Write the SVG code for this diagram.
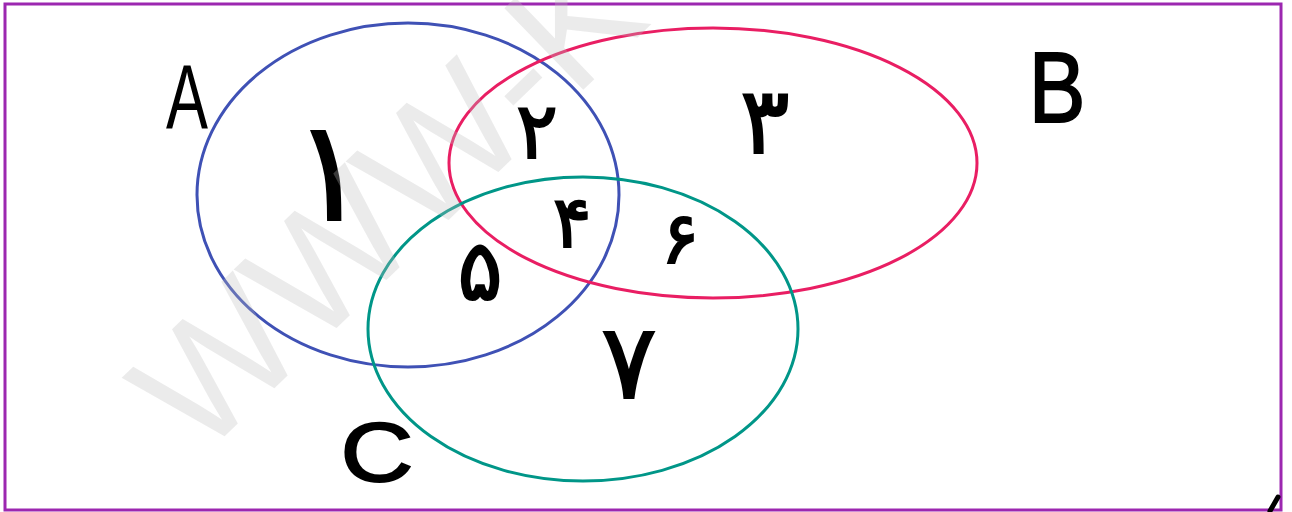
<svg xmlns="http://www.w3.org/2000/svg" width="1292" height="512" viewBox="0 0 1292 512">
<style>
.set{fill:none;stroke-width:3}
.hand{font-family:"DejaVu Sans",sans-serif;fill:#000;text-anchor:middle;stroke:#000;stroke-width:2}
.lbl{font-family:"Liberation Sans",sans-serif;fill:#000;text-anchor:middle}
.wm{font-family:"Liberation Sans",sans-serif;font-size:165px;fill:#bebebe;fill-opacity:0.3}
</style>
<rect width="1292" height="512" fill="#fff"/>
<rect x="5" y="4" width="1276" height="506" fill="none" stroke="#9C27B0" stroke-width="3"/>
<g id="setA"><ellipse class="set" cx="408" cy="195" rx="211" ry="172" stroke="#3F51B5"/></g>
<g id="setB"><ellipse class="set" cx="713" cy="163" rx="264" ry="135" stroke="#E91E63"/></g>
<g id="setC"><ellipse class="set" cx="583" cy="329" rx="215" ry="152" stroke="#009688"/></g>
<g id="labels">
<text class="lbl" x="187" y="128" font-size="90" transform="translate(187 128) scale(0.7 1) translate(-187 -128)">A</text>
<text class="lbl" x="1057" y="122" font-size="100" stroke="#000" stroke-width="2" transform="translate(1057 122) scale(0.85 1) translate(-1057 -122)">B</text>
<text class="lbl" x="377" y="481" font-size="84" stroke="#000" stroke-width="2" transform="translate(377 481) scale(1.2 1) translate(-377 -481)">C</text>
</g>
<g id="regions">
<text class="hand" x="330" y="220" font-size="140" stroke-width="0">۱</text>
<text class="hand" x="537" y="158" font-size="78">۲</text>
<text class="hand" x="765" y="153" font-size="92">۳</text>
<text class="hand" x="572" y="247" font-size="72">۴</text>
<text class="hand" x="480" y="300" font-size="84">۵</text>
<text class="hand" x="680" y="263" font-size="72">۶</text>
<text class="hand" x="629" y="398" font-size="104">۷</text>
</g>
<line x1="1270" y1="511" x2="1278" y2="497" stroke="#000" stroke-width="5" stroke-linecap="round"/>
<text class="wm" x="200" y="460" transform="rotate(-44 200 460)">WWW-K</text>
</svg>
